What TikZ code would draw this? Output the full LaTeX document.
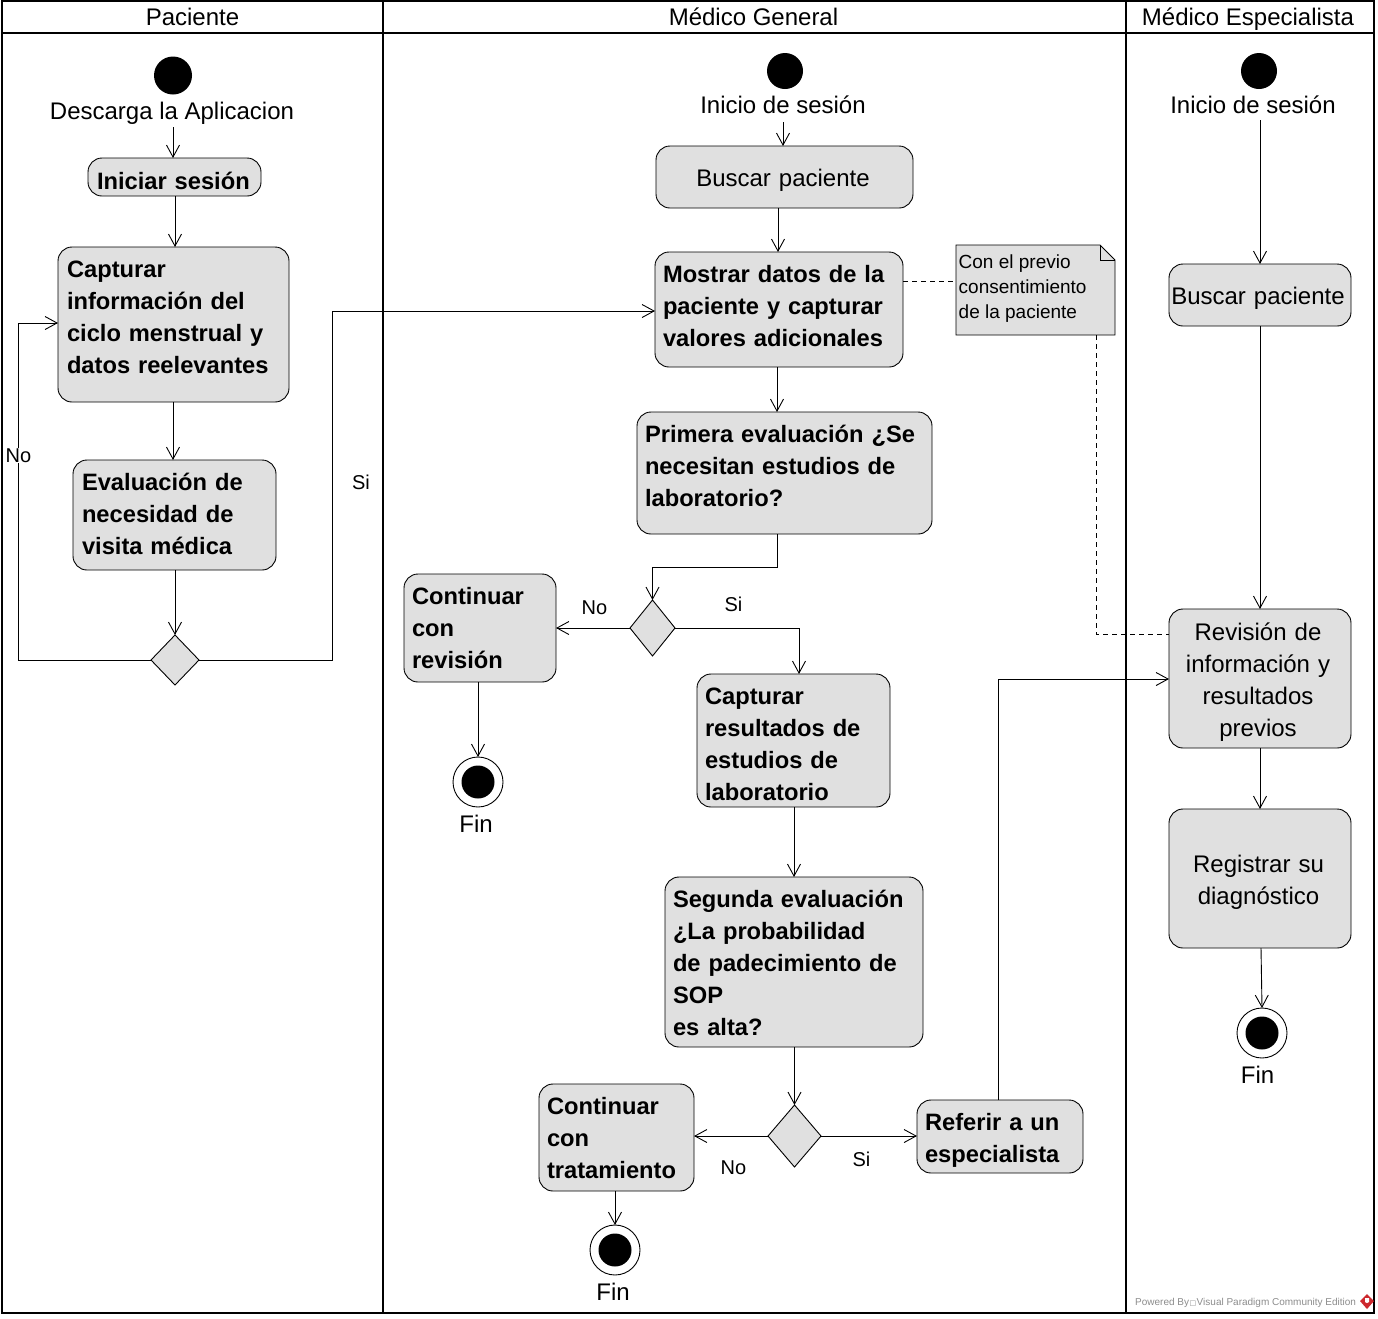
\documentclass[tikz,border=0pt]{standalone}
\usepackage{fontspec}
\setmainfont{Liberation Sans}
\newfontfamily\symfont{DejaVu Sans}
\usetikzlibrary{shapes.geometric,arrows.meta,calc}
\definecolor{boxfill}{RGB}{224,224,224}
\definecolor{wmgray}{RGB}{140,140,140}
\definecolor{wmred}{RGB}{205,40,45}
\tikzset{
  x=1pt,y=-1pt,
  act/.style={draw=black,line width=0.9pt,fill=boxfill,rounded corners=14pt,inner xsep=9pt,inner ysep=0pt,outer sep=0pt,
    font=\fontsize{23.7}{32}\selectfont\bfseries,align=left},
  actn/.style={act,font=\fontsize{24}{32}\selectfont,align=center,inner xsep=0pt},
  dec/.style={draw=black,line width=0.9pt,fill=boxfill,diamond,inner sep=0pt,outer sep=0pt,aspect=1},
  startn/.style={circle,fill=black,inner sep=0pt,outer sep=0pt,minimum size=38pt},
  endo/.style={circle,draw=black,line width=0.9pt,fill=white,inner sep=0pt,outer sep=0pt,minimum size=50pt},
  endi/.style={circle,fill=black,inner sep=0pt,outer sep=0pt,minimum size=33pt},
  lab/.style={font=\fontsize{24}{28}\selectfont,inner sep=0pt},
  small/.style={font=\fontsize{20}{24}\selectfont,inner sep=0pt},
  lane/.style={line width=2.8pt,draw=black},
  flow/.style={draw=black,line width=0.9pt,-{Straight Barb[length=12pt,width=13pt,line width=0.9pt]}},
  notedash/.style={draw=black,line width=0.9pt,dash pattern=on 5pt off 4pt},
}
\newcommand{\actbox}[6]{% name, x0,y0,x1,y1, text
  \node[act,minimum width=\the\numexpr#4-#2\relax pt,minimum height=\the\numexpr#5-#3\relax pt,text width=\the\numexpr#4-#2-18\relax pt] (#1) at ({(#2+#4)/2},{(#3+#5)/2}) {#6};}
\newcommand{\actnbox}[6]{% name, x0,y0,x1,y1, text
  \node[actn,minimum width=\the\numexpr#4-#2\relax pt,minimum height=\the\numexpr#5-#3\relax pt,text width=\the\numexpr#4-#2\relax pt] (#1) at ({(#2+#4)/2},{(#3+#5)/2}) {#6};}
% left-set lines; #1 above and #2 below move them in the box (a negative #2 moves them down)
\newcommand{\tl}[3]{\vbox{\vskip#1pt\hbox{\begin{tabular}{@{}l@{}}#3\end{tabular}}\vskip#2pt}}
% the same, one unit further left
\newcommand{\tb}[3]{\vbox{\vskip#1pt\hbox{\kern-1pt\begin{tabular}{@{}l@{}}#3\end{tabular}}\vskip#2pt}}
% centred lines, moved left by half of the kern
\newcommand{\tc}[3]{\vbox{\vskip#1pt\hbox to \hsize{\hss\kern-#2pt\begin{tabular}{@{}c@{}}#3\end{tabular}\hss}}}
\begin{document}
\begin{tikzpicture}
\useasboundingbox (0,0) rectangle (1378,1318);
\fill[white] (0,0) rectangle (1378,1318);
% swimlanes
\draw[lane] (2,1) rectangle (1374,1313);
\draw[lane] (2,33) -- (1374,33);
\draw[lane] (383,1) -- (383,1313);
\draw[lane] (1126,1) -- (1126,1313);
\node[lab] (h1) at (192.5,17) {Paciente};
\node[lab] (h2) at (753.5,17) {Médico General};
\node[lab] (h3) at (1248,19) {Médico Especialista};
% Paciente
\node[startn] (s1) at (173,75.5) {};
\node[lab] (l1) at (172,113) {Descarga la Aplicacion};
\actbox{a1}{88}{158}{261}{196}{\tl{0}{-12}{Iniciar sesión}}
\actbox{a2}{58}{247}{289}{402}{\tl{0}{10}{Capturar\\información del\\ciclo menstrual y\\datos reelevantes}}
\actbox{a3}{73}{460}{276}{570}{\tl{2}{0}{Evaluación de\\necesidad de\\visita médica}}
\node[dec,minimum width=48pt,minimum height=50pt] (d1) at (175,660) {};
% Medico general
\node[startn,minimum size=36pt] (s2) at (785,71) {};
\node[lab] (l2) at (783,105) {Inicio de sesión};
\actnbox{b1}{656}{146}{913}{208}{\tc{6}{3}{Buscar paciente}}
\actbox{b2}{655}{252}{903}{367}{\tb{0}{2}{Mostrar datos de la\\paciente y capturar\\valores adicionales}}
\actbox{b3}{637}{412}{932}{534}{\tb{0}{10}{Primera evaluación ¿Se\\necesitan estudios de\\laboratorio?}}
\node[dec,minimum width=45pt,minimum height=56pt] (d2) at (652.5,628) {};
\actbox{b4}{404}{574}{556}{682}{\tb{4}{0}{Continuar\\con\\revisión}}
\node[endo] (e1) at (478,782) {};
\node[endi] (e1i) at (478,782) {};
\node[lab] (f1) at (476,824) {Fin};
\actbox{b5}{697}{674}{890}{807}{\tb{0}{-12}{Capturar\\resultados de\\estudios de\\laboratorio}}
\actbox{b6}{665}{877}{923}{1047}{\tb{6}{0}{Segunda evaluación\\¿La probabilidad\\de padecimiento de\\SOP\\es alta?}}
\node[dec,minimum width=53pt,minimum height=62pt] (d3) at (794.5,1136) {};
\actbox{b7}{539}{1084}{694}{1191}{\tb{6}{0}{Continuar\\con\\tratamiento}}
\node[endo] (e2) at (615,1250) {};
\node[endi] (e2i) at (615,1250) {};
\node[lab] (f2) at (613,1292) {Fin};
\actbox{b8}{917}{1100}{1083}{1173}{\tb{8}{0}{Referir a un\\especialista}}
% note
\draw[draw=black,line width=0.9pt,fill=boxfill] (956,245) -- (1100,245) -- (1115,260) -- (1115,335) -- (956,335) -- cycle;
\draw[draw=black,line width=0.9pt] (1100,245) -- (1100,260) -- (1115,260);
\node[small,anchor=west,align=left,font=\fontsize{19}{25}\selectfont] (n1) at (958.5,288.5) {Con el previo\\consentimiento\\de la paciente};
\coordinate (nW) at (956,281);
\coordinate (nS) at (1096,335);
% Especialista
\node[startn,minimum size=36pt] (s3) at (1259,71) {};
\node[lab] (l3) at (1253,105) {Inicio de sesión};
\actnbox{c1}{1169}{264}{1351}{326}{\tc{6}{4}{Buscar paciente}}
\actnbox{c2}{1169}{609}{1351}{748}{\tc{8}{4}{Revisión de\\información y\\resultados\\previos}}
\actnbox{c3}{1169}{809}{1351}{948}{\tc{8}{3}{Registrar su\\diagnóstico}}
\node[endo] (e3) at (1262,1033) {};
\node[endi] (e3i) at (1262,1033) {};
\node[lab] (f3) at (1257.5,1075) {Fin};
% connectors
\coordinate (k0) at (173,127);
\draw[flow] (k0) -- (k0 |- a1.north);
\coordinate (k1) at (175,196);
\draw[flow] (k1) -- (k1 |- a2.north);
\coordinate (k2) at (173,402);
\draw[flow] (k2) -- (k2 |- a3.north);
\coordinate (k3) at (175,570);
\draw[flow] (k3) -- (d1.north);
\coordinate (no1a) at (18,660);
\coordinate (no1b) at (18,323);
\draw[flow] (d1.west) -- (no1a) -- (no1b) -- (no1b -| a2.west);
\coordinate (si1a) at (332,660);
\coordinate (si1b) at (332,311);
\draw[flow] (d1.east) -- (si1a) -- (si1b) -- (si1b -| b2.west);
\node[small,fill=white,inner ysep=1pt] (lno1) at (18.5,455.5) {No};
\node[small] (lsi1) at (361,482) {Si};
\coordinate (k00) at (783,122);
\draw[flow] (k00) -- (k00 |- b1.north);
\coordinate (k4) at (778,208);
\draw[flow] (k4) -- (k4 |- b2.north);
\coordinate (k5) at (777,367);
\draw[flow] (k5) -- (k5 |- b3.north);
\coordinate (k6) at (777,534);
\coordinate (k6b) at (777,567);
\draw[flow] (k6) -- (k6b) -- (k6b -| d2.north) -- (d2.north);
\draw[flow] (d2.west) -- (d2.west -| b4.east);
\coordinate (k7) at (799,628);
\draw[flow] (d2.east) -- (k7) -- (k7 |- b5.north);
\node[small] (lno2) at (594.5,607.5) {No};
\node[small] (lsi2) at (733.5,604) {Si};
\draw[flow] (b4.south -| e1.north) -- (e1.north);
\coordinate (k8) at (794,807);
\draw[flow] (k8) -- (k8 |- b6.north);
\draw[flow] (b6.south -| d3.north) -- (d3.north);
\draw[flow] (d3.west) -- (d3.west -| b7.east);
\draw[flow] (d3.east) -- (d3.east -| b8.west);
\node[small] (lno3) at (733.5,1167.5) {No};
\node[small] (lsi3) at (861.5,1159.5) {Si};
\draw[flow] (b7.south -| e2.north) -- (e2.north);
\coordinate (k9) at (998,1100);
\coordinate (k9b) at (998,679);
\draw[flow] (k9) -- (k9b) -- (k9b -| c2.west);
\draw[notedash] (nW -| b2.east) -- (nW);
\coordinate (k10) at (1096,634);
\draw[notedash] (nS) -- (k10) -- (k10 -| c2.west);
\coordinate (k13) at (1260,120);
\draw[flow] (k13) -- (k13 |- c1.north);
\coordinate (k11) at (1260,326);
\draw[flow] (k11) -- (k11 |- c2.north);
\coordinate (k12) at (1260,748);
\draw[flow] (k12) -- (k12 |- c3.north);
\coordinate (k14) at (1261,948);
\draw[flow] (k14) -- (e3.north);
% watermark
\node[inner sep=0pt,anchor=west,text=wmgray,font=\fontsize{10}{12}\selectfont] (wm) at (1135,1303) {Powered By\kern.5pt{\symfont\fontsize{7}{8}\selectfont □}\kern.5pt Visual Paradigm Community Edition};
\fill[wmred] (1367,1294) -- (1374,1301) -- (1367,1309) -- (1360,1301) -- cycle;
\fill[white] (1365,1298) -- (1369,1298) -- (1369,1302) -- (1367,1303) -- (1365,1302) -- cycle;
\end{tikzpicture}
\end{document}
